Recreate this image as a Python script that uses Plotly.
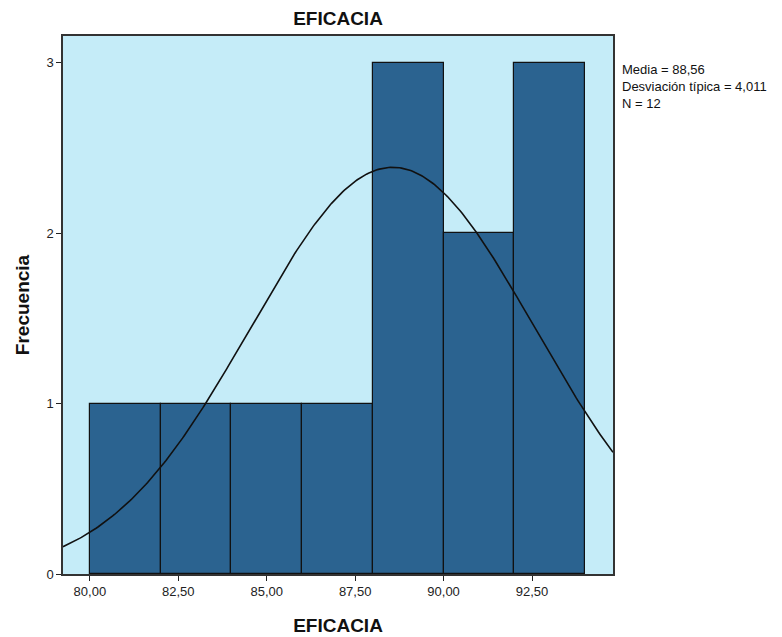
import numpy as np
import plotly.graph_objects as go

bin_centers = [81, 83, 85, 87, 89, 91, 93]
counts = [1, 1, 1, 1, 3, 2, 3]
bin_width = 2
mean_val = 88.56
sd_val = 4.011
n_val = 12
x_tickvals = [80, 82.5, 85, 87.5, 90, 92.5]
x_ticktext = ["80,00", "82,50", "85,00", "87,50", "90,00", "92,50"]
y_tickvals = [0, 1, 2, 3]
stats_lines = ["Media = 88,56", "Desviación típica = 4,011", "N = 12"]

xr = [79.24, 94.79]
xs = np.linspace(xr[0], xr[1], 300)
ys = n_val * bin_width / (sd_val * np.sqrt(2 * np.pi)) * np.exp(-0.5 * ((xs - mean_val) / sd_val) ** 2)

fig = go.Figure()
fig.add_trace(go.Bar(x=bin_centers, y=counts, width=[bin_width] * len(counts),
                     marker=dict(color="#2B6390", line=dict(color="#111111", width=1.2)),
                     hoverinfo="skip"))
fig.add_trace(go.Scatter(x=xs, y=ys, mode="lines", line=dict(color="#111111", width=1.6),
                         hoverinfo="skip"))

font_main = "Liberation Sans, Arial, sans-serif"
fig.update_layout(
    width=774, height=629,
    margin=dict(l=55, r=169, t=28, b=63),
    paper_bgcolor="white", plot_bgcolor="#C5ECF8",
    showlegend=False, bargap=0,
    font=dict(family=font_main, size=13, color="#222222"),
    title=dict(text="<b>EFICACIA</b>", x=0.5, xref="paper", y=1 - 10 / 629, yref="container",
               xanchor="center", yanchor="middle", font=dict(size=19, color="#111111")),
    xaxis=dict(range=xr, tickvals=x_tickvals, ticktext=x_ticktext, ticks="outside",
               ticklen=5, tickcolor="#222", showgrid=False, zeroline=False, automargin=False,
               showline=True, linecolor="#333333", linewidth=1.5, mirror=True,
               title=dict(text="<b>EFICACIA</b>", font=dict(size=19, color="#111111"), standoff=20)),
    yaxis=dict(range=[0, 3.158], tickvals=y_tickvals, ticks="outside", ticklen=5,
               tickcolor="#222", showgrid=False, zeroline=False, automargin=False,
               showline=True, linecolor="#333333", linewidth=1.5, mirror=True,
               title=dict(text="<b>Frecuencia</b>", font=dict(size=19, color="#111111"), standoff=12)),
    annotations=[dict(text="<br>".join(stats_lines), xref="paper", yref="paper",
                      x=1.012, y=0.906, xanchor="left", yanchor="middle", align="left",
                      showarrow=False, font=dict(size=13, color="#111111"))],
)
fig.write_html("out.html")
